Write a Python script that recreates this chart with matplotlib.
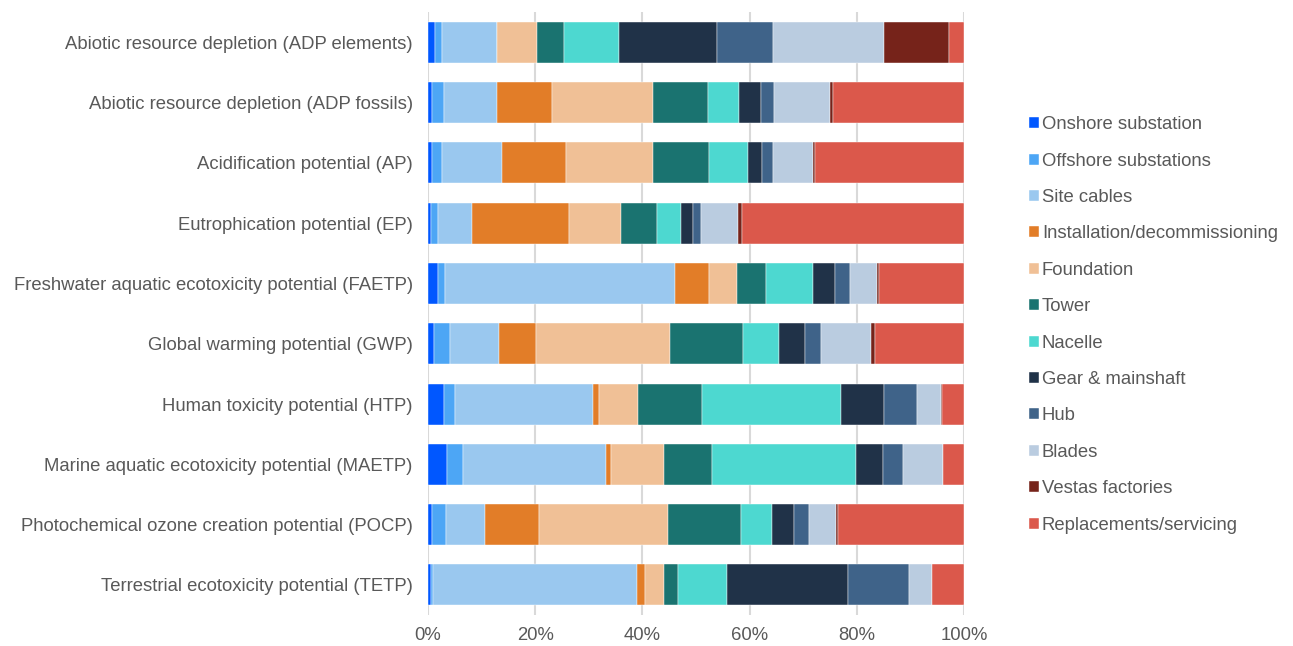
import numpy as np
import matplotlib
matplotlib.use("Agg")
import matplotlib.pyplot as plt

plt.rcParams['font.family'] = ['Liberation Sans', 'DejaVu Sans']

# Impact categories (top to bottom)
categories = [
    "Abiotic resource depletion (ADP elements)",
    "Abiotic resource depletion (ADP fossils)",
    "Acidification potential (AP)",
    "Eutrophication potential (EP)",
    "Freshwater aquatic ecotoxicity potential (FAETP)",
    "Global warming potential (GWP)",
    "Human toxicity potential (HTP)",
    "Marine aquatic ecotoxicity potential (MAETP)",
    "Photochemical ozone creation potential (POCP)",
    "Terrestrial ecotoxicity potential (TETP)",
]

components = [
    "Onshore substation", "Offshore substations", "Site cables",
    "Installation/decommissioning", "Foundation", "Tower", "Nacelle",
    "Gear & mainshaft", "Hub", "Blades", "Vestas factories",
    "Replacements/servicing",
]

colors = ["#0057FF", "#4DA6F5", "#9AC8EF", "#E27D28", "#F0C096", "#1A7370",
          "#4DD8D0", "#203248", "#3F6389", "#BACCE0", "#76231A", "#DB584B"]

# share (%) of each component, one list per category
adp_elements = [1.4, 1.3, 10.1, 0.1, 7.5, 5.0, 10.3, 18.3, 10.4, 20.7, 12.1, 2.8]
adp_fossils  = [0.8, 2.1, 9.9, 10.4, 18.7, 10.3, 5.9, 4.1, 2.4, 10.4, 0.6, 24.4]
ap           = [0.8, 1.9, 11.1, 11.9, 16.2, 10.5, 7.3, 2.6, 2.0, 7.5, 0.4, 27.8]
ep           = [0.5, 1.3, 6.4, 18.1, 9.7, 6.7, 4.5, 2.2, 1.5, 7.0, 0.6, 41.5]
faetp        = [1.9, 1.2, 43.0, 6.3, 5.3, 5.4, 8.7, 4.2, 2.7, 5.0, 0.5, 15.8]
gwp          = [1.2, 2.9, 9.2, 6.9, 24.9, 13.6, 6.7, 4.9, 3.1, 9.2, 0.7, 16.7]
htp          = [2.9, 2.1, 25.8, 1.1, 7.2, 12.1, 25.8, 8.0, 6.2, 4.5, 0.1, 4.2]
maetp        = [3.6, 3.0, 26.6, 1.0, 9.8, 9.0, 26.8, 5.1, 3.7, 7.4, 0.1, 3.9]
pocp         = [0.7, 2.6, 7.4, 10.0, 24.1, 13.5, 5.9, 4.1, 2.8, 5.1, 0.3, 23.5]
tetp         = [0.5, 0.5, 38.0, 1.4, 3.7, 2.6, 9.1, 22.5, 11.4, 4.3, 0.1, 5.9]

data = np.array([adp_elements, adp_fossils, ap, ep, faetp, gwp, htp,
                 maetp, pocp, tetp], dtype=float)
data = data / data.sum(axis=1, keepdims=True) * 100

fig = plt.figure(figsize=(12.93, 6.46), dpi=100)
ax = fig.add_axes([0.331, 0.048, 0.4146, 0.933])

y = np.arange(len(categories))
left = np.zeros(len(categories))
for j, comp in enumerate(components):
    ax.barh(y, data[:, j], left=left, height=0.68, color=colors[j],
            label=comp, edgecolor="white", linewidth=0.3, zorder=3)
    left += data[:, j]

ax.set_xlim(0, 100)
ax.set_ylim(len(categories) - 0.5, -0.5)
ax.set_yticks(y)
ax.set_yticklabels(categories, fontsize=13.3, color="#595959")
ax.set_xticks(np.arange(0, 101, 20))
ax.set_xticklabels([f"{v}%" for v in range(0, 101, 20)], fontsize=13.3,
                   color="#595959")
ax.tick_params(axis="y", length=0, pad=11)
ax.tick_params(axis="x", length=0, pad=9)
ax.grid(axis="x", color="#D9D9D9", linewidth=1.5, zorder=0)
for s in ax.spines.values():
    s.set_visible(False)

leg = fig.legend(loc="center left", bbox_to_anchor=(0.783, 0.497),
                 frameon=False, fontsize=13.3, handlelength=0.55,
                 handleheight=0.55, handletextpad=0.15, labelspacing=1.05,
                 labelcolor="#595959")

fig.savefig("out.png", dpi=100)
